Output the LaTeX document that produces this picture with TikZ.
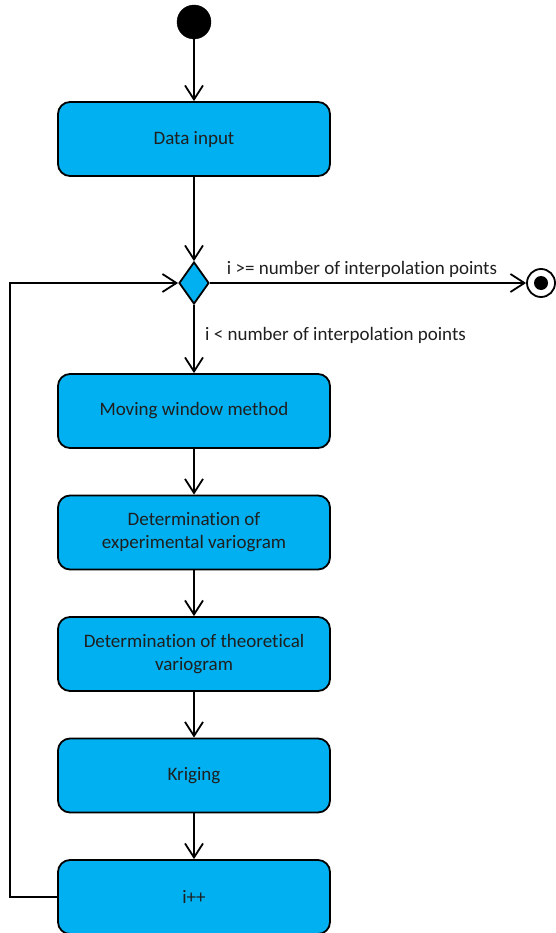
\documentclass[tikz,border=0pt]{standalone}
\usepackage{fontspec}
\setmainfont{Carlito}[Ligatures=NoCommon]
\usetikzlibrary{shapes.geometric,arrows.meta}
\definecolor{actblue}{HTML}{00B0F0}
\tikzset{
  action/.style={draw, fill=actblue, rounded corners=12pt, line width=1.8pt,
    minimum width=272pt, minimum height=74pt, align=center,
    font=\fontsize{19}{23}\selectfont, text=black!88},
  flow/.style={line width=1.8pt, -{Straight Barb[length=14pt,width=18pt,line width=1.8pt]}},
  guard/.style={font=\fontsize{19}{23}\selectfont, text=black!88, inner sep=0pt}
}
\begin{document}
\begin{tikzpicture}[x=1pt, y=-1pt, node distance=121.5pt]
                \useasboundingbox (0,0) rectangle (556,933);
                \node[draw, fill=black, circle, minimum size=34pt] (start) at (194,22) {};
                \node[action] (input) at (194,139) {Data input};
                \node[diamond, draw, fill=actblue, line width=1.8pt, minimum width=30pt, minimum height=42pt, inner sep=0pt] (dec) at (194,283) {};
                \node[draw, circle, line width=1.8pt, fill=white, minimum size=28pt] (stop) at (541,283) {};
                \node[circle, fill=black, minimum size=14pt] at (stop) {};
                \node[action] (window) at (194,411) {Moving window method};
                \node[action, below of=window] (exper) {Determination of\\experimental variogram};
                \node[action, below of=exper] (theor) {Determination of theoretical\\variogram};
                \node[action, below of=theor] (krig) {Kriging};
                \node[action, below of=krig] (inc) {i++};
                \coordinate (loopx) at (10,283);

                \draw[flow] (start) -- (input);
                \draw[flow] (input) -- (dec);
                \draw[flow] (dec) -- node[guard, above=5pt, xshift=-6pt] {i >= number of interpolation points} (stop);
                \draw[flow] (dec) -- (window);
                \draw[flow] (window) -- (exper);
                \draw[flow] (exper) -- (theor);
                \draw[flow] (theor) -- (krig);
                \draw[flow] (krig) -- (inc);
                \draw[flow] (inc.west) -| (loopx) -- (dec);
                \node[guard, anchor=west] at (205,335) {i < number of interpolation points};
            \end{tikzpicture}
\end{document}
